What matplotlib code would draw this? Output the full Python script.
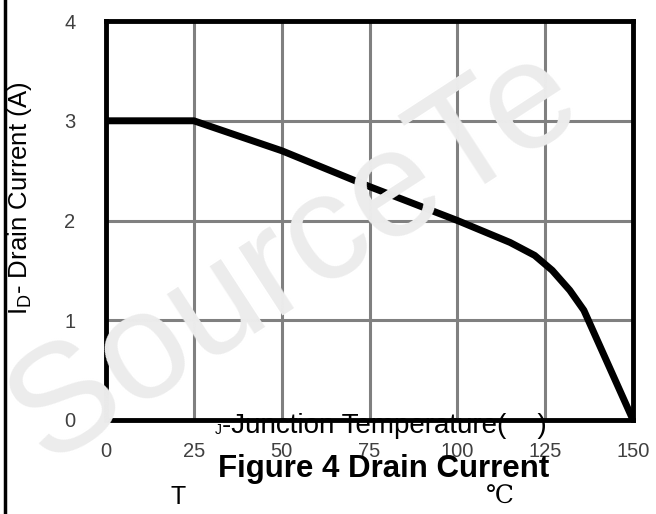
import matplotlib
matplotlib.use('Agg')
import matplotlib.pyplot as plt
from matplotlib.lines import Line2D

# data
temp = [0, 25, 50, 75, 100, 115, 122, 127, 132, 136, 150]
current = [3.0, 3.0, 2.70, 2.34, 2.0, 1.78, 1.65, 1.50, 1.30, 1.10, 0.0]
xticks = [0, 25, 50, 75, 100, 125, 150]
yticks = [0, 1, 2, 3, 4]

plt.rcParams['font.family'] = ['Liberation Sans', 'DejaVu Sans']

fig = plt.figure(figsize=(6.56, 5.14), dpi=100)
ax = fig.add_axes([0.1616, 0.183, 0.8034, 0.776])

# watermark
fig.text(0.45, 0.5, 'SourceTe', fontsize=110, color='#ececec', rotation=33,
         ha='center', va='center', zorder=0)

ax.set_facecolor('none')
ax.plot(temp, current, color='black', linewidth=5, solid_capstyle='butt',
        solid_joinstyle='round', zorder=3)

ax.set_xlim(0, 150)
ax.set_ylim(0, 4)
ax.set_xticks(xticks)
ax.set_yticks(yticks)
ax.grid(True, color='#808080', linewidth=2.2)
ax.set_axisbelow(True)
for s in ax.spines.values():
    s.set_linewidth(3.5)
    s.set_color('black')
    s.set_zorder(4)
ax.tick_params(length=0, labelsize=14.5, colors='#404040')
ax.tick_params(axis='x', pad=16)
ax.tick_params(axis='y', pad=22)

fig.text(0.03, 0.615, r'I$_\mathregular{D}$- Drain Current (A)', fontsize=18.5,
         rotation=90, ha='center', va='center')

fig.text(0.327, 0.163, 'J', fontsize=10, ha='left', va='center')
fig.text(0.339, 0.172, '-Junction Temperature(    )', fontsize=20, ha='left', va='center')
fig.text(0.585, 0.088, 'Figure 4 Drain Current', fontsize=22.5, fontweight='bold',
         ha='center', va='center')
fig.text(0.271, 0.033, 'T', fontsize=18, ha='center', va='center')
fig.text(0.762, 0.033, '℃', fontsize=18, ha='center', va='center',
         family=['DejaVu Serif', 'DejaVu Sans'])

fig.add_artist(Line2D([0.008, 0.008], [0, 1], color='black', linewidth=2.5,
                      transform=fig.transFigure))

fig.savefig('out.png', dpi=100)
